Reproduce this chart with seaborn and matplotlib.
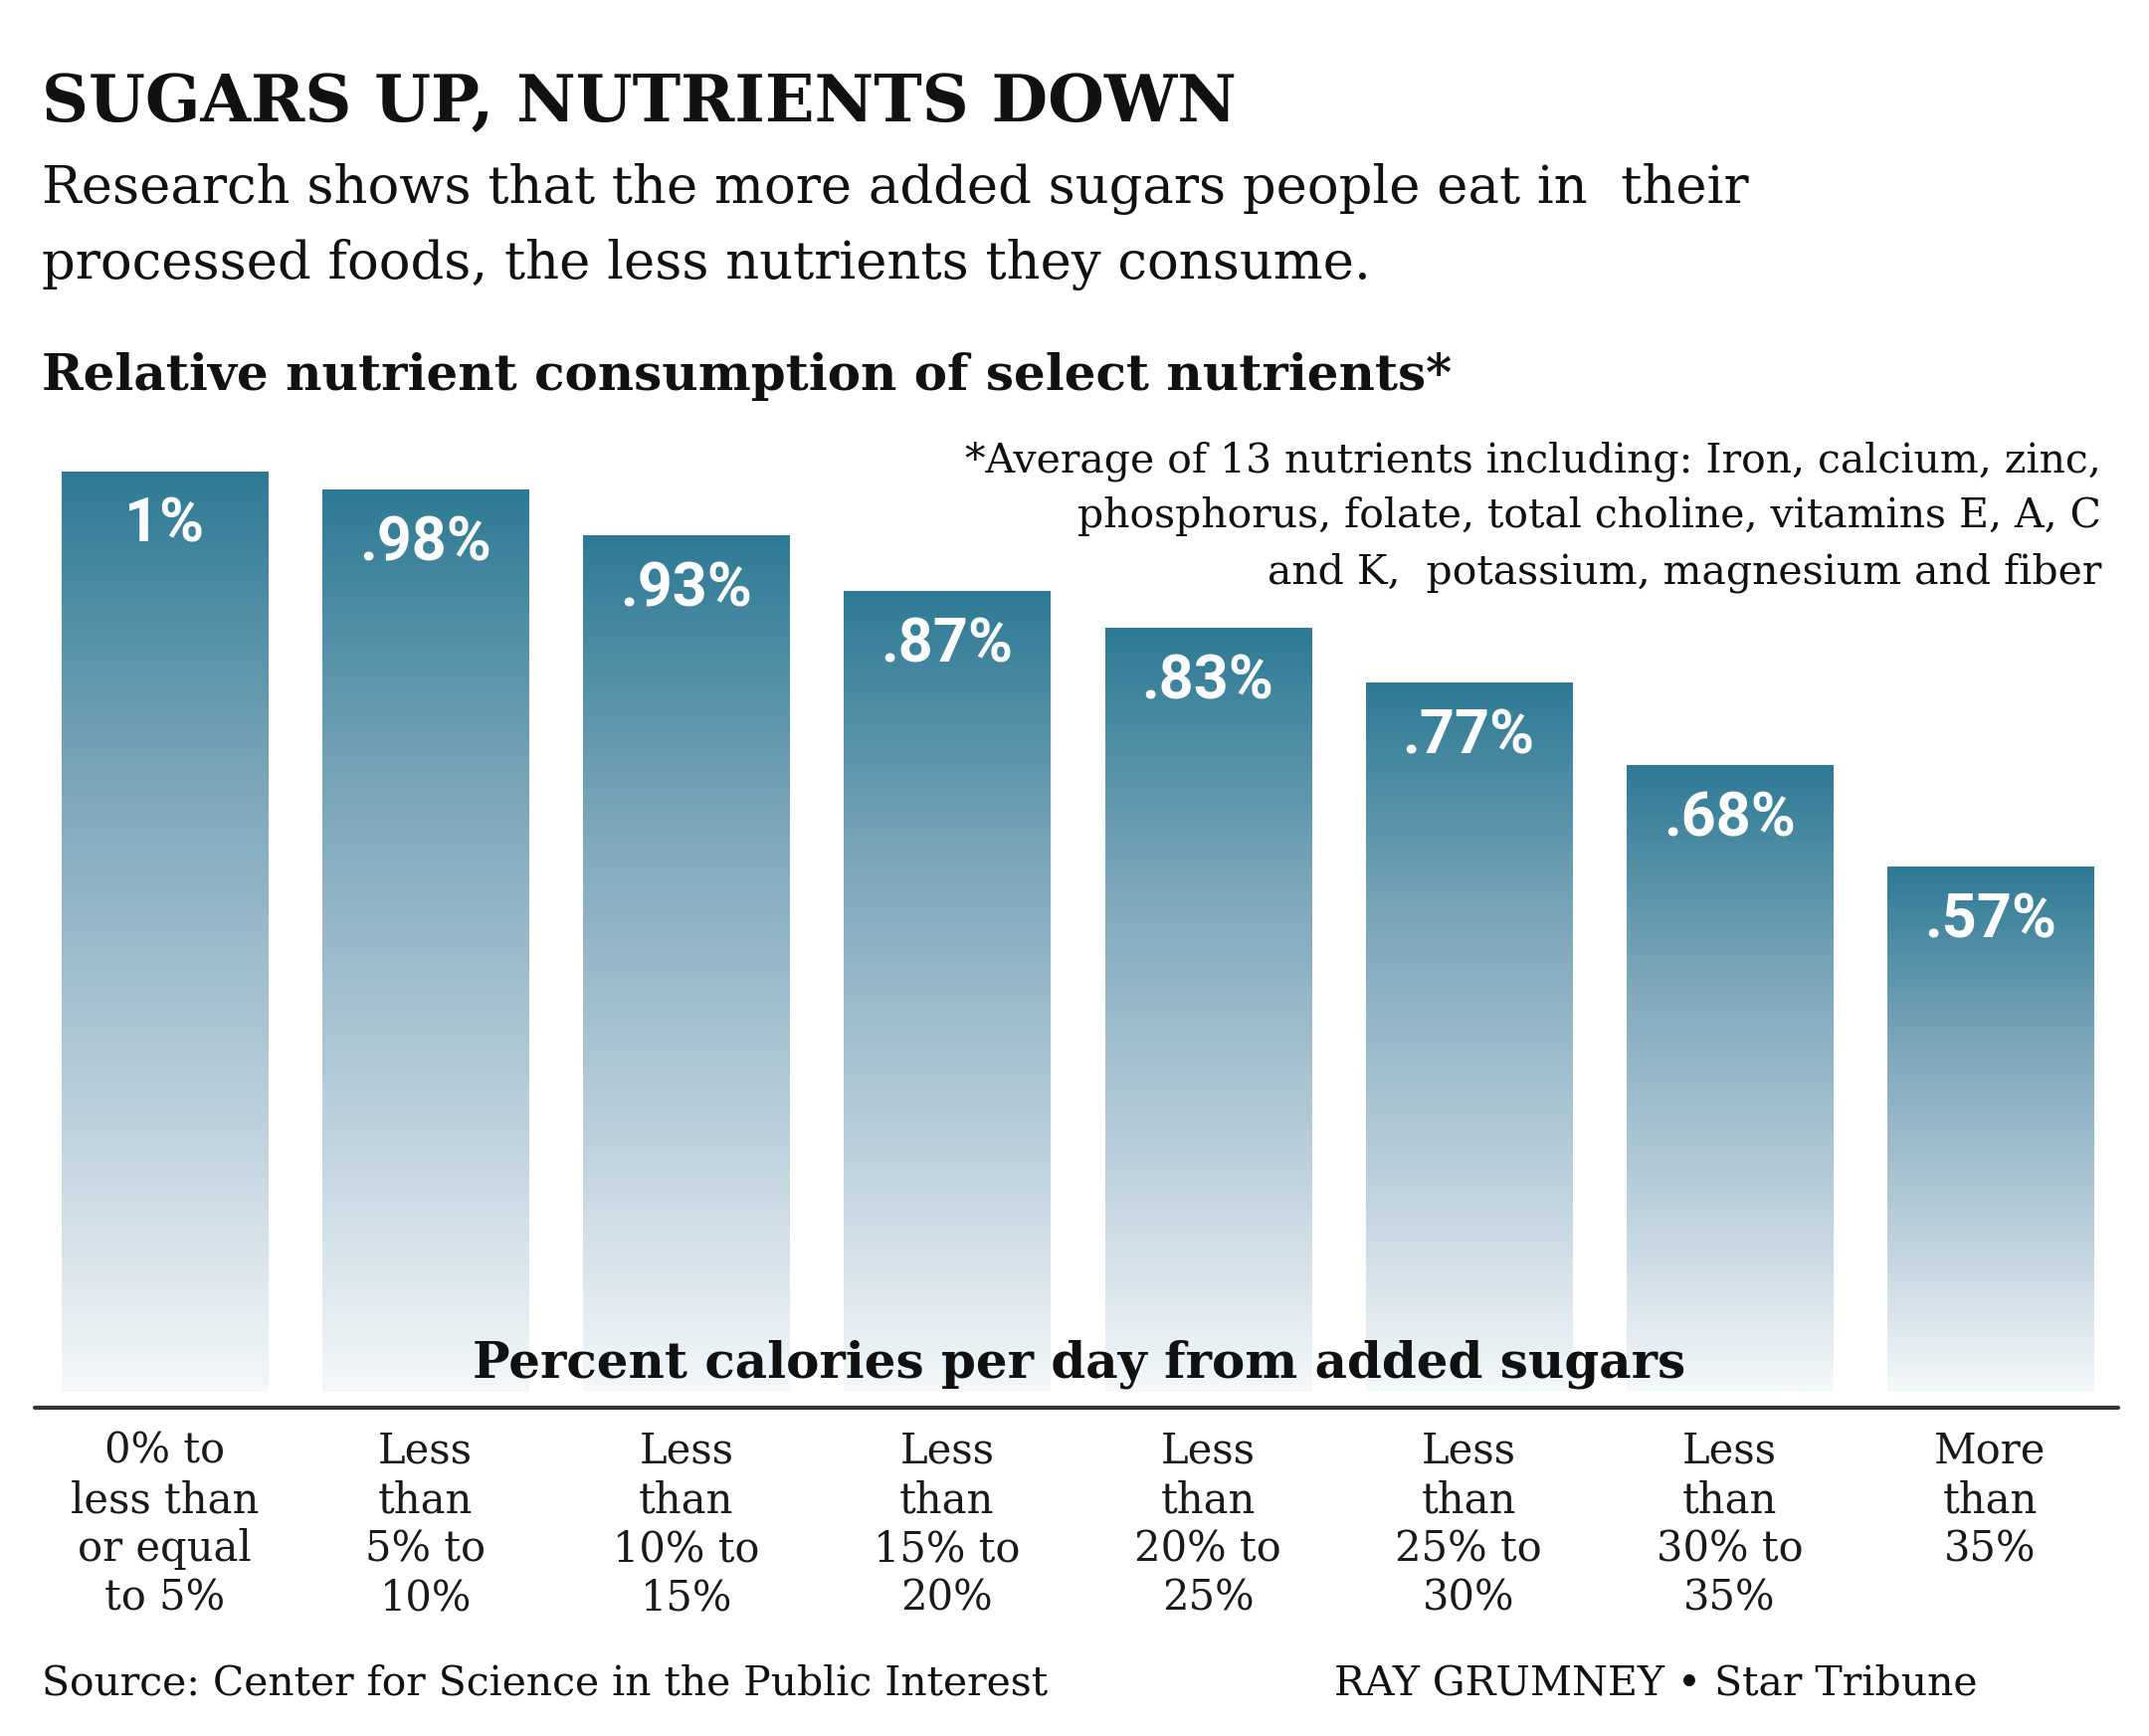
import numpy as np
import pandas as pd
import matplotlib
matplotlib.use('Agg')
import matplotlib.pyplot as plt
from matplotlib.colors import LinearSegmentedColormap
from matplotlib.lines import Line2D
import seaborn as sns

# ================================================
# Data
# ================================================
categories = [
    '0% to\nless than\nor equal\nto 5%',
    'Less\nthan\n5% to\n10%',
    'Less\nthan\n10% to\n15%',
    'Less\nthan\n15% to\n20%',
    'Less\nthan\n20% to\n25%',
    'Less\nthan\n25% to\n30%',
    'Less\nthan\n30% to\n35%',
    'More\nthan\n35%',
]
values = [1.0, 0.98, 0.93, 0.87, 0.83, 0.77, 0.68, 0.57]
value_labels = ['1%', '.98%', '.93%', '.87%', '.83%', '.77%', '.68%', '.57%']

title = 'SUGARS UP, NUTRIENTS DOWN'
subtitle = ['Research shows that the more added sugars people eat in  their',
            'processed foods, the less nutrients they consume.']
chart_title = 'Relative nutrient consumption of select nutrients*'
footnote = ['*Average of 13 nutrients including: Iron, calcium, zinc,',
            'phosphorus, folate, total choline, vitamins E, A, C',
            'and K,  potassium, magnesium and fiber']
x_title = 'Percent calories per day from added sugars'
source = 'Source: Center for Science in the Public Interest'
credit = 'RAY GRUMNEY \u2022 Star Tribune'

# ================================================
# Setup
# ================================================
sns.set_style('white')
plt.rcParams['font.family'] = ['DejaVu Serif']

W, H = 2160, 1745
fig = plt.figure(figsize=(W / 100, H / 100), dpi=100)


def fx(px):
    return px / W


def fy(py):
    return 1 - py / H


ax = fig.add_axes([fx(62), fy(1399), fx(2104 - 62), (1399 - 474) / H])

df = pd.DataFrame({'group': categories, 'value': values})
sns.barplot(data=df, x='group', y='value', color='#2f7c96',
            width=0.79, errorbar=None, ax=ax)

# vertical gradient inside every bar
bar_cmap = LinearSegmentedColormap.from_list(
    'bars', [(0.0, '#f4f8fa'), (0.3, '#bcd0dc'),
             (0.65, '#7ea8bc'), (1.0, '#2e7a95')])
grad = np.linspace(0, 1, 256).reshape(-1, 1)
for p in ax.patches:
    x0, w, h = p.get_x(), p.get_width(), p.get_height()
    ax.imshow(grad, extent=[x0, x0 + w, 0, h], origin='lower',
              aspect='auto', cmap=bar_cmap, zorder=2)
    p.set_visible(False)

ax.set_xlim(-0.395, 7.395)
ax.set_ylim(0, 1.0)

for i, (v, lab) in enumerate(zip(values, value_labels)):
    ax.annotate(lab, xy=(i, v), xytext=(0, -18), textcoords='offset points',
                ha='center', va='top', color='white', fontsize=44,
                fontweight='bold', family='Roboto', zorder=3)

ax.set_xticks(range(len(categories)))
ax.set_xticklabels(categories, fontsize=30, linespacing=1.22, color='#1a1a1a')
ax.tick_params(axis='x', length=0, pad=28)
ax.set_yticks([])
ax.set_xlabel('')
ax.set_ylabel('')
sns.despine(ax=ax, left=True, bottom=True)

# base line under the bars
fig.add_artist(Line2D([fx(35), fx(2129)], [fy(1415), fy(1415)],
                      transform=fig.transFigure, color='#333333', lw=3))

# ================================================
# Texts
# ================================================
fig.text(fx(42), fy(122), title, fontsize=47, fontweight='bold',
         va='baseline', color='#111111')
fig.text(fx(42), fy(204), subtitle[0], fontsize=38, va='baseline',
         color='#111111')
fig.text(fx(42), fy(280), subtitle[1], fontsize=38, va='baseline',
         color='#111111')
fig.text(fx(42), fy(392), chart_title, fontsize=36, fontweight='bold',
         va='baseline', color='#111111')
for k, line in enumerate(footnote):
    fig.text(fx(2112), fy(474 + 56 * k), line, fontsize=29.5, ha='right',
             va='baseline', color='#111111')
fig.text(fx(1085), fy(1385), x_title, fontsize=36, fontweight='bold',
         ha='center', va='baseline', color='#111111', zorder=5)
fig.text(fx(42), fy(1703), source, fontsize=29.4, va='baseline',
         color='#111111')
fig.text(fx(1341), fy(1703), credit, fontsize=29.5, va='baseline',
         color='#111111')

fig.savefig('out.png', dpi=100, facecolor='white')
